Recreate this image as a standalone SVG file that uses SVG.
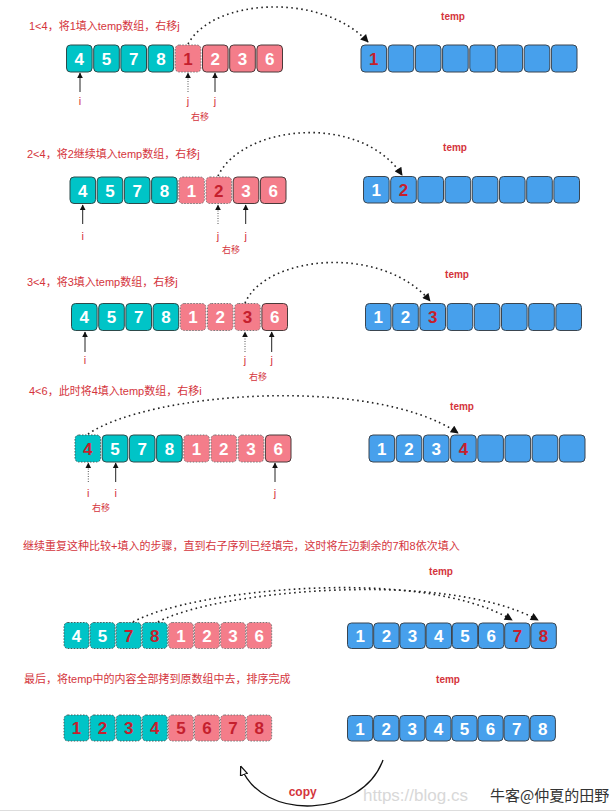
<svg xmlns="http://www.w3.org/2000/svg" width="616" height="812" viewBox="0 0 616 812">
<style>
.bg{fill:#fff}
.t{fill:#00c4c7;stroke:#2d4a4a;stroke-width:1}
.td{fill:#00c4c7;stroke:#4a5a5a;stroke-width:1;stroke-dasharray:1.5 1.5}
.p{fill:#f47d8a;stroke:#4a3a3a;stroke-width:1}
.pd{fill:#f47d8a;stroke:#777;stroke-width:1;stroke-dasharray:1.5 1.5}
.b{fill:#47a0ec;stroke:#3a4550;stroke-width:1}
.n{font-family:"Liberation Sans",Arial,sans-serif;font-weight:bold;font-size:17px;fill:#fff;text-anchor:middle}
.r{fill:#c51f2e}
.title{font-family:"Liberation Sans","Noto Sans CJK SC",sans-serif;font-size:11px;fill:#d4343c}
.tmp{font-family:"Liberation Sans",sans-serif;font-weight:bold;font-size:10px;fill:#d4343c;text-anchor:middle}
.lbl{font-family:"Liberation Sans","Noto Sans CJK SC",sans-serif;font-size:11px;fill:#d4343c;text-anchor:middle}
.sm{font-family:"Noto Sans CJK SC",sans-serif;font-size:9px;fill:#d4343c;text-anchor:middle}
.ptr{stroke:#222;stroke-width:1;fill:none;marker-end:url(#ah)}
.ptrd{stroke:#555;stroke-width:1;stroke-dasharray:1 1.5;fill:none;marker-end:url(#ah)}
.arc{stroke:#222;stroke-width:1.6;stroke-dasharray:1.6 3.4;fill:none;marker-end:url(#ah2)}
</style>
<defs>
<marker id="ah" viewBox="0 0 10 10" refX="9" refY="5" markerWidth="6" markerHeight="7" markerUnits="userSpaceOnUse" orient="auto"><path d="M0,0L10,5L0,10z" fill="#111"/></marker>
<marker id="ah2" viewBox="0 0 10 10" refX="9" refY="5" markerWidth="9" markerHeight="8" markerUnits="userSpaceOnUse" orient="auto"><path d="M0,0L10,5L0,10z" fill="#111"/></marker>
<marker id="ah3" viewBox="0 0 10 10" refX="9" refY="5" markerWidth="10" markerHeight="9" markerUnits="userSpaceOnUse" orient="auto"><path d="M0,1L10,5L0,9z" fill="#fff" stroke="#111" stroke-width="1.4"/></marker>
</defs>
<rect class="bg" x="0" y="0" width="616" height="812"/>

<!-- titles -->
<g id="titles">
<text class="title" x="29" y="30">1&lt;4，将1填入temp数组，右移j</text>
<text class="title" x="27" y="158">2&lt;4，将2继续填入temp数组，右移j</text>
<text class="title" x="27" y="286">3&lt;4，将3填入temp数组，右移j</text>
<text class="title" x="29" y="395">4&lt;6，此时将4填入temp数组，右移i</text>
<text class="title" x="23" y="550">继续重复这种比较+填入的步骤，直到右子序列已经填完，这时将左边剩余的7和8依次填入</text>
<text class="title" x="24" y="683">最后，将temp中的内容全部拷到原数组中去，排序完成</text>
<text class="tmp" x="453" y="19.5">temp</text>
<text class="tmp" x="455" y="150.5">temp</text>
<text class="tmp" x="457" y="278">temp</text>
<text class="tmp" x="462" y="410">temp</text>
<text class="tmp" x="441" y="575">temp</text>
<text class="tmp" x="448" y="683">temp</text>
</g>

<!-- Section 1 -->
<g id="s1-left" transform="translate(66.5,45)">
<rect class="t" x="0" y="0" width="25.6" height="27" rx="4"/><text class="n" x="12.8" y="19.5">4</text>
<rect class="t" x="27.2" y="0" width="25.6" height="27" rx="4"/><text class="n" x="40" y="19.5">5</text>
<rect class="t" x="54.4" y="0" width="25.6" height="27" rx="4"/><text class="n" x="67.2" y="19.5">7</text>
<rect class="t" x="81.6" y="0" width="25.6" height="27" rx="4"/><text class="n" x="94.4" y="19.5">8</text>
<rect class="pd" x="108.8" y="0" width="25.6" height="27" rx="4"/><text class="n r" x="121.6" y="19.5">1</text>
<rect class="p" x="136" y="0" width="25.6" height="27" rx="4"/><text class="n" x="148.8" y="19.5">2</text>
<rect class="p" x="163.2" y="0" width="25.6" height="27" rx="4"/><text class="n" x="176" y="19.5">3</text>
<rect class="p" x="190.4" y="0" width="25.6" height="27" rx="4"/><text class="n" x="203.2" y="19.5">6</text>
</g>
<g id="s1-temp" transform="translate(361,45)">
<rect class="b" x="0" y="0" width="25.6" height="27" rx="4"/><text class="n r" x="12.8" y="19.5">1</text>
<rect class="b" x="27.2" y="0" width="25.6" height="27" rx="4"/>
<rect class="b" x="54.4" y="0" width="25.6" height="27" rx="4"/>
<rect class="b" x="81.6" y="0" width="25.6" height="27" rx="4"/>
<rect class="b" x="108.8" y="0" width="25.6" height="27" rx="4"/>
<rect class="b" x="136" y="0" width="25.6" height="27" rx="4"/>
<rect class="b" x="163.2" y="0" width="25.6" height="27" rx="4"/>
<rect class="b" x="190.4" y="0" width="25.6" height="27" rx="4"/>
</g>
<g id="s1-labels">
<text class="lbl" x="80" y="105">i</text>
<text class="lbl" x="188" y="105">j</text>
<text class="lbl" x="215" y="105">j</text>
<text class="sm" x="200" y="120">右移</text>
</g>

<!-- Section 2 -->
<g id="s2-left" transform="translate(70,177)">
<rect class="t" x="0" y="0" width="25.6" height="26.5" rx="4"/><text class="n" x="12.8" y="19.5">4</text>
<rect class="t" x="27.2" y="0" width="25.6" height="26.5" rx="4"/><text class="n" x="40" y="19.5">5</text>
<rect class="t" x="54.4" y="0" width="25.6" height="26.5" rx="4"/><text class="n" x="67.2" y="19.5">7</text>
<rect class="t" x="81.6" y="0" width="25.6" height="26.5" rx="4"/><text class="n" x="94.4" y="19.5">8</text>
<rect class="pd" x="108.8" y="0" width="25.6" height="26.5" rx="4"/><text class="n" x="121.6" y="19.5">1</text>
<rect class="pd" x="136" y="0" width="25.6" height="26.5" rx="4"/><text class="n r" x="148.8" y="19.5">2</text>
<rect class="p" x="163.2" y="0" width="25.6" height="26.5" rx="4"/><text class="n" x="176" y="19.5">3</text>
<rect class="p" x="190.4" y="0" width="25.6" height="26.5" rx="4"/><text class="n" x="203.2" y="19.5">6</text>
</g>
<g id="s2-temp" transform="translate(363.5,176.5)">
<rect class="b" x="0" y="0" width="25.6" height="26.5" rx="4"/><text class="n" x="12.8" y="19.5">1</text>
<rect class="b" x="27.2" y="0" width="25.6" height="26.5" rx="4"/><text class="n r" x="40" y="19.5">2</text>
<rect class="b" x="54.4" y="0" width="25.6" height="26.5" rx="4"/>
<rect class="b" x="81.6" y="0" width="25.6" height="26.5" rx="4"/>
<rect class="b" x="108.8" y="0" width="25.6" height="26.5" rx="4"/>
<rect class="b" x="136" y="0" width="25.6" height="26.5" rx="4"/>
<rect class="b" x="163.2" y="0" width="25.6" height="26.5" rx="4"/>
<rect class="b" x="190.4" y="0" width="25.6" height="26.5" rx="4"/>
</g>
<g id="s2-labels">
<text class="lbl" x="82.7" y="240">i</text>
<text class="lbl" x="218" y="240">j</text>
<text class="lbl" x="245.7" y="240">j</text>
<text class="sm" x="231" y="253">右移</text>
</g>

<!-- Section 3 -->
<g id="s3-left" transform="translate(71.5,303.5)">
<rect class="t" x="0" y="0" width="25.6" height="27" rx="4"/><text class="n" x="12.8" y="19.5">4</text>
<rect class="t" x="27.2" y="0" width="25.6" height="27" rx="4"/><text class="n" x="40" y="19.5">5</text>
<rect class="t" x="54.4" y="0" width="25.6" height="27" rx="4"/><text class="n" x="67.2" y="19.5">7</text>
<rect class="t" x="81.6" y="0" width="25.6" height="27" rx="4"/><text class="n" x="94.4" y="19.5">8</text>
<rect class="pd" x="108.8" y="0" width="25.6" height="27" rx="4"/><text class="n" x="121.6" y="19.5">1</text>
<rect class="pd" x="136" y="0" width="25.6" height="27" rx="4"/><text class="n" x="148.8" y="19.5">2</text>
<rect class="pd" x="163.2" y="0" width="25.6" height="27" rx="4"/><text class="n r" x="176" y="19.5">3</text>
<rect class="p" x="190.4" y="0" width="25.6" height="27" rx="4"/><text class="n" x="203.2" y="19.5">6</text>
</g>
<g id="s3-temp" transform="translate(365.5,303.5)">
<rect class="b" x="0" y="0" width="25.6" height="27" rx="4"/><text class="n" x="12.8" y="19.5">1</text>
<rect class="b" x="27.2" y="0" width="25.6" height="27" rx="4"/><text class="n" x="40" y="19.5">2</text>
<rect class="b" x="54.4" y="0" width="25.6" height="27" rx="4"/><text class="n r" x="67.2" y="19.5">3</text>
<rect class="b" x="81.6" y="0" width="25.6" height="27" rx="4"/>
<rect class="b" x="108.8" y="0" width="25.6" height="27" rx="4"/>
<rect class="b" x="136" y="0" width="25.6" height="27" rx="4"/>
<rect class="b" x="163.2" y="0" width="25.6" height="27" rx="4"/>
<rect class="b" x="190.4" y="0" width="25.6" height="27" rx="4"/>
</g>
<g id="s3-labels">
<text class="lbl" x="85" y="364">i</text>
<text class="lbl" x="245" y="364">j</text>
<text class="lbl" x="271.7" y="364">j</text>
<text class="sm" x="258" y="380">右移</text>
</g>

<!-- Section 4 -->
<g id="s4-left" transform="translate(75,435)">
<rect class="td" x="0" y="0" width="25.6" height="27" rx="4"/><text class="n r" x="12.8" y="19.5">4</text>
<rect class="t" x="27.2" y="0" width="25.6" height="27" rx="4"/><text class="n" x="40" y="19.5">5</text>
<rect class="t" x="54.4" y="0" width="25.6" height="27" rx="4"/><text class="n" x="67.2" y="19.5">7</text>
<rect class="t" x="81.6" y="0" width="25.6" height="27" rx="4"/><text class="n" x="94.4" y="19.5">8</text>
<rect class="pd" x="108.8" y="0" width="25.6" height="27" rx="4"/><text class="n" x="121.6" y="19.5">1</text>
<rect class="pd" x="136" y="0" width="25.6" height="27" rx="4"/><text class="n" x="148.8" y="19.5">2</text>
<rect class="pd" x="163.2" y="0" width="25.6" height="27" rx="4"/><text class="n" x="176" y="19.5">3</text>
<rect class="p" x="190.4" y="0" width="25.6" height="27" rx="4"/><text class="n" x="203.2" y="19.5">6</text>
</g>
<g id="s4-temp" transform="translate(369,435)">
<rect class="b" x="0" y="0" width="25.6" height="27" rx="4"/><text class="n" x="12.8" y="19.5">1</text>
<rect class="b" x="27.2" y="0" width="25.6" height="27" rx="4"/><text class="n" x="40" y="19.5">2</text>
<rect class="b" x="54.4" y="0" width="25.6" height="27" rx="4"/><text class="n" x="67.2" y="19.5">3</text>
<rect class="b" x="81.6" y="0" width="25.6" height="27" rx="4"/><text class="n r" x="94.4" y="19.5">4</text>
<rect class="b" x="108.8" y="0" width="25.6" height="27" rx="4"/>
<rect class="b" x="136" y="0" width="25.6" height="27" rx="4"/>
<rect class="b" x="163.2" y="0" width="25.6" height="27" rx="4"/>
<rect class="b" x="190.4" y="0" width="25.6" height="27" rx="4"/>
</g>
<g id="s4-labels">
<text class="lbl" x="88.3" y="497">i</text>
<text class="lbl" x="115.7" y="497">i</text>
<text class="lbl" x="275" y="497">j</text>
<text class="sm" x="101" y="511">右移</text>
</g>

<!-- Section 5 -->
<g id="s5-left" transform="translate(64,622.5)">
<rect class="td" x="0" y="0" width="25" height="26" rx="4"/><text class="n" x="12.5" y="19">4</text>
<rect class="td" x="26.1" y="0" width="25" height="26" rx="4"/><text class="n" x="38.6" y="19">5</text>
<rect class="td" x="52.2" y="0" width="25" height="26" rx="4"/><text class="n r" x="64.7" y="19">7</text>
<rect class="td" x="78.3" y="0" width="25" height="26" rx="4"/><text class="n r" x="90.8" y="19">8</text>
<rect class="pd" x="104.4" y="0" width="25" height="26" rx="4"/><text class="n" x="116.9" y="19">1</text>
<rect class="pd" x="130.5" y="0" width="25" height="26" rx="4"/><text class="n" x="143" y="19">2</text>
<rect class="pd" x="156.6" y="0" width="25" height="26" rx="4"/><text class="n" x="169.1" y="19">3</text>
<rect class="pd" x="182.7" y="0" width="25" height="26" rx="4"/><text class="n" x="195.2" y="19">6</text>
</g>
<g id="s5-temp" transform="translate(347.5,623)">
<rect class="b" x="0" y="0" width="25.4" height="25.5" rx="4"/><text class="n" x="12.7" y="19">1</text>
<rect class="b" x="26.2" y="0" width="25.4" height="25.5" rx="4"/><text class="n" x="38.9" y="19">2</text>
<rect class="b" x="52.4" y="0" width="25.4" height="25.5" rx="4"/><text class="n" x="65.1" y="19">3</text>
<rect class="b" x="78.6" y="0" width="25.4" height="25.5" rx="4"/><text class="n" x="91.3" y="19">4</text>
<rect class="b" x="104.8" y="0" width="25.4" height="25.5" rx="4"/><text class="n" x="117.5" y="19">5</text>
<rect class="b" x="131" y="0" width="25.4" height="25.5" rx="4"/><text class="n" x="143.7" y="19">6</text>
<rect class="b" x="157.2" y="0" width="25.4" height="25.5" rx="4"/><text class="n r" x="169.9" y="19">7</text>
<rect class="b" x="183.4" y="0" width="25.4" height="25.5" rx="4"/><text class="n r" x="196.1" y="19">8</text>
</g>

<!-- Section 6 -->
<g id="s6-left" transform="translate(64,715)">
<rect class="td" x="0" y="0" width="25" height="26" rx="4"/><text class="n r" x="12.5" y="19">1</text>
<rect class="td" x="26.1" y="0" width="25" height="26" rx="4"/><text class="n r" x="38.6" y="19">2</text>
<rect class="td" x="52.2" y="0" width="25" height="26" rx="4"/><text class="n r" x="64.7" y="19">3</text>
<rect class="td" x="78.3" y="0" width="25" height="26" rx="4"/><text class="n r" x="90.8" y="19">4</text>
<rect class="pd" x="104.4" y="0" width="25" height="26" rx="4"/><text class="n r" x="116.9" y="19">5</text>
<rect class="pd" x="130.5" y="0" width="25" height="26" rx="4"/><text class="n r" x="143" y="19">6</text>
<rect class="pd" x="156.6" y="0" width="25" height="26" rx="4"/><text class="n r" x="169.1" y="19">7</text>
<rect class="pd" x="182.7" y="0" width="25" height="26" rx="4"/><text class="n r" x="195.2" y="19">8</text>
</g>
<g id="s6-temp" transform="translate(347.5,715.5)">
<rect class="b" x="0" y="0" width="25.2" height="25.5" rx="4"/><text class="n" x="12.6" y="19">1</text>
<rect class="b" x="26.1" y="0" width="25.2" height="25.5" rx="4"/><text class="n" x="38.7" y="19">2</text>
<rect class="b" x="52.2" y="0" width="25.2" height="25.5" rx="4"/><text class="n" x="64.8" y="19">3</text>
<rect class="b" x="78.3" y="0" width="25.2" height="25.5" rx="4"/><text class="n" x="90.9" y="19">4</text>
<rect class="b" x="104.4" y="0" width="25.2" height="25.5" rx="4"/><text class="n" x="117" y="19">5</text>
<rect class="b" x="130.5" y="0" width="25.2" height="25.5" rx="4"/><text class="n" x="143.1" y="19">6</text>
<rect class="b" x="156.6" y="0" width="25.2" height="25.5" rx="4"/><text class="n" x="169.2" y="19">7</text>
<rect class="b" x="182.7" y="0" width="25.2" height="25.5" rx="4"/><text class="n" x="195.3" y="19">8</text>
</g>
<text x="302.7" y="796" font-family="Liberation Sans,sans-serif" font-weight="bold" font-size="12" fill="#d4343c" text-anchor="middle">copy</text>

<!-- connectors -->
<g id="connectors">
<path class="ptr" d="M80,92V73"/>
<path class="ptrd" d="M188,92V73"/>
<path class="ptr" d="M215,92V73"/>
<path class="arc" d="M188,44C213,-2 322,-8 368,42"/>

<path class="ptr" d="M82.7,224V205"/>
<path class="ptrd" d="M218,224V205"/>
<path class="ptr" d="M245.7,224V205"/>
<path class="arc" d="M218,176C242,125 360,112 402,175"/>

<path class="ptr" d="M85,352V332"/>
<path class="ptrd" d="M245,352V332"/>
<path class="ptr" d="M271.7,352V332"/>
<path class="arc" d="M245,303C266,255 382,244 430,301"/>

<path class="ptrd" d="M88.3,482V463"/>
<path class="ptr" d="M115.7,482V463"/>
<path class="ptr" d="M275,482V463"/>
<path class="arc" d="M88,434C150,392 372,375 458,433"/>

<path class="arc" d="M133,622C190,590 420,565 512,620"/>
<path class="arc" d="M158,622C212,592 442,568 538,620"/>

<path d="M383,760C362,818 262,822 241,767" fill="none" stroke="#111" stroke-width="1.3" marker-end="url(#ah3)"/>
</g>

<!-- watermark -->
<g id="watermark">
<text x="363" y="801" font-family="Liberation Sans,sans-serif" font-size="17" fill="#d8d8d8">https://blog.cs</text>
<text x="490" y="801" font-family="Noto Sans CJK SC,sans-serif" font-size="15" fill="#333">牛客@仲夏的田野</text>
</g>
<line x1="0" y1="810.5" x2="616" y2="810.5" stroke="#ddd" stroke-width="1"/>
</svg>
